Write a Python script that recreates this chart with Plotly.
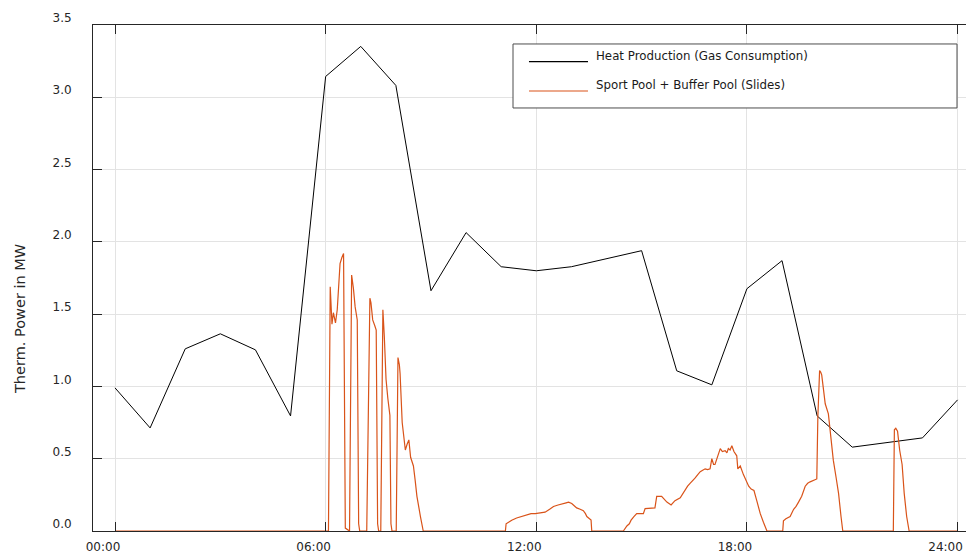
import plotly.graph_objects as go

# Heat production (gas consumption), hourly readings in MW
heat_hours = [0, 1, 2, 3, 4, 5, 6, 7, 8, 9, 10, 11, 12, 13, 15, 16, 17, 18, 19, 20, 21, 23, 24]
heat_mw = [0.99, 0.713, 1.26, 1.364, 1.253, 0.796, 3.144, 3.352, 3.082, 1.662, 2.064, 1.828,
           1.80, 1.828, 1.939, 1.108, 1.011, 1.676, 1.87, 0.796, 0.58, 0.644, 0.907]

# Sport pool + buffer pool (slides), high-resolution log in MW
pool_hours = [
    0, 6.08, 6.13, 6.18, 6.22, 6.28, 6.33, 6.41, 6.46, 6.51, 6.56, 6.68,
    6.74, 6.79, 6.84, 6.90, 6.94, 6.97, 7.17,
    7.26, 7.29, 7.34, 7.40, 7.44, 7.48, 7.51, 7.57,
    7.63, 7.67, 7.72, 7.77, 7.80, 7.83, 7.86, 7.89, 8.01,
    8.06, 8.10, 8.12, 8.18, 8.23, 8.27, 8.32, 8.37, 8.42, 8.50, 8.55, 8.60, 8.70, 8.78,
    11.12, 11.14, 11.21, 11.30, 11.44, 11.60, 11.73, 11.85, 11.97, 12.10, 12.25, 12.38,
    12.49, 12.62, 12.73, 12.85, 12.92, 13.01, 13.08, 13.15, 13.25, 13.34, 13.40, 13.44,
    13.56, 13.58,
    14.48, 14.58, 14.65, 14.70, 14.78, 14.86, 15.05, 15.10, 15.38, 15.43, 15.57, 15.65,
    15.72, 15.84, 15.95, 16.10, 16.17, 16.24, 16.31, 16.38, 16.45, 16.52, 16.60, 16.67,
    16.74, 16.81, 16.88, 16.95, 17.00, 17.05, 17.09, 17.16, 17.24, 17.30, 17.38, 17.43,
    17.47, 17.52, 17.57, 17.63, 17.71, 17.74, 17.81, 17.90, 17.98, 18.05, 18.12, 18.20,
    18.28, 18.38, 18.47, 18.57,
    19.02, 19.04, 19.11, 19.23, 19.33, 19.40, 19.47, 19.56, 19.66, 19.73, 19.80, 19.90,
    19.99, 20.02, 20.05, 20.07, 20.10, 20.13, 20.18, 20.23, 20.32, 20.39, 20.46, 20.54,
    20.61, 20.68, 20.73,
    22.17, 22.20, 22.24, 22.29, 22.35, 22.42, 22.48, 22.55, 22.62, 24,
]
pool_mw = [
    0, 0, 1.69, 1.43, 1.51, 1.44, 1.53, 1.85, 1.89, 1.92, 0.02, 0,
    1.77, 1.68, 1.55, 1.46, 0.05, 0, 0,
    1.61, 1.58, 1.46, 1.42, 1.39, 0.05, 0, 0,
    1.53, 1.35, 1.05, 0.92, 0.86, 0.80, 0.05, 0, 0,
    1.20, 1.15, 1.09, 0.75, 0.62, 0.56, 0.60, 0.63, 0.51, 0.45, 0.35, 0.24, 0.10, 0,
    0, 0.05, 0.06, 0.075, 0.09, 0.10, 0.11, 0.12, 0.12, 0.125, 0.13, 0.15,
    0.17, 0.18, 0.185, 0.195, 0.20, 0.19, 0.175, 0.16, 0.15, 0.14, 0.12, 0.10,
    0.076, 0,
    0, 0.035, 0.05, 0.075, 0.10, 0.12, 0.12, 0.155, 0.16, 0.24, 0.24, 0.22,
    0.20, 0.18, 0.21, 0.23, 0.26, 0.28, 0.31, 0.33, 0.345, 0.365, 0.39, 0.41,
    0.42, 0.43, 0.425, 0.43, 0.50, 0.46, 0.46, 0.52, 0.57, 0.55, 0.556, 0.54,
    0.57, 0.56, 0.59, 0.55, 0.52, 0.43, 0.45, 0.39, 0.35, 0.31, 0.29, 0.28,
    0.21, 0.12, 0.06, 0,
    0, 0.07, 0.085, 0.10, 0.15, 0.17, 0.20, 0.24, 0.31, 0.33, 0.34, 0.35,
    0.36, 0.79, 1.08, 1.11, 1.10, 1.08, 0.98, 0.88, 0.81, 0.65, 0.49, 0.37,
    0.26, 0.10, 0,
    0, 0.70, 0.71, 0.69, 0.56, 0.46, 0.26, 0.10, 0, 0,
]

tick_hours = [0, 6, 12, 18, 24]
tick_labels = ["00:00", "06:00", "12:00", "18:00", "24:00"]
y_ticks = [0.0, 0.5, 1.0, 1.5, 2.0, 2.5, 3.0, 3.5]

series_names = ["Heat Production (Gas Consumption)", "Sport Pool + Buffer Pool (Slides)"]
series_colors = ["#000000", "#D95319"]

FONT = "DejaVu Sans"
AXIS = "#262626"
GRID = "#e3e3e3"

fig = go.Figure()
fig.add_trace(go.Scatter(x=heat_hours, y=heat_mw, mode="lines", name=series_names[0],
                         line=dict(color=series_colors[0], width=1), showlegend=False))
fig.add_trace(go.Scatter(x=pool_hours, y=pool_mw, mode="lines", name=series_names[1],
                         line=dict(color=series_colors[1], width=1.2), showlegend=False))

# Boxed legend drawn in paper coordinates
shapes = [dict(type="rect", xref="paper", yref="paper", x0=0.4811, x1=0.9897, y0=0.836, y1=0.9625,
               line=dict(color="#4d4d4d", width=1), fillcolor="white", layer="above")]
annotations = []
for i, (name, col) in enumerate(zip(series_names, series_colors)):
    y_line = [0.9275, 0.8696][i]
    y_text = [0.9387, 0.8814][i]
    shapes.append(dict(type="line", xref="paper", yref="paper", x0=0.4994, x1=0.567,
                       y0=y_line, y1=y_line, line=dict(color=col, width=1.2), layer="above"))
    annotations.append(dict(xref="paper", yref="paper", x=0.5739, y=y_text, text=name,
                            showarrow=False, xanchor="left", yanchor="middle",
                            font=dict(family=FONT, size=11.8, color="#1a1a1a")))

# Y-axis title
annotations.append(dict(xref="paper", yref="paper", x=-0.0836, y=0.419, text="Therm. Power in MW",
                        textangle=-90, showarrow=False, xanchor="center", yanchor="middle",
                        font=dict(family=FONT, size=14.5, color="#262626")))

fig.update_layout(
    width=966, height=555,
    margin=dict(l=93, r=0, t=25, b=24),
    paper_bgcolor="white", plot_bgcolor="white",
    font=dict(family=FONT, size=12, color=AXIS),
    shapes=shapes, annotations=annotations,
    showlegend=False,
)
fig.update_xaxes(
    range=[-0.627, 24.24], tickvals=tick_hours, ticktext=tick_labels,
    showgrid=True, gridcolor=GRID, gridwidth=1, zeroline=False,
    showline=True, linecolor=AXIS, linewidth=1, mirror="ticks",
    ticks="inside", ticklen=9, tickcolor=AXIS, tickwidth=1,
    ticklabelshift=-12, ticklabelstandoff=5,
    tickfont=dict(family=FONT, size=12, color=AXIS), automargin=False,
)
fig.update_yaxes(
    range=[0, 3.5], tickvals=y_ticks, tickformat=".1f",
    showgrid=True, gridcolor=GRID, gridwidth=1, zeroline=False,
    showline=True, linecolor=AXIS, linewidth=1,
    ticks="inside", ticklen=9, tickcolor=AXIS, tickwidth=1,
    ticklabelshift=-7, ticklabelstandoff=18,
    tickfont=dict(family=FONT, size=12, color=AXIS), automargin=False,
)

fig.write_html("out.html")
